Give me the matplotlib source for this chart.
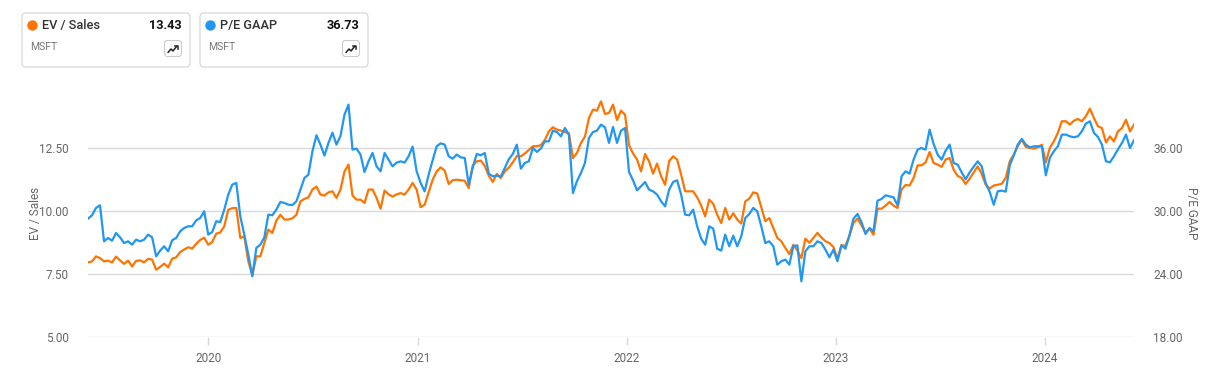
import numpy as np
import pandas as pd
import matplotlib
matplotlib.use("Agg")
import matplotlib.pyplot as plt
import matplotlib.dates as mdates
from matplotlib.patches import FancyBboxPatch, Circle

plt.rcParams['font.family'] = ['Roboto', 'DejaVu Sans']

# weekly readings, June 2019 - June 2024
start_date = '2019-06-05'

ev_sales = [
    7.96, 8.00, 8.20, 8.13, 8.00, 8.03, 7.96, 8.19, 8.04, 7.90,
    8.03, 7.80, 8.02, 8.04, 7.96, 8.10, 8.07, 7.67, 7.78, 7.91,
    7.76, 8.11, 8.16, 8.37, 8.47, 8.56, 8.51, 8.70, 8.85, 8.94,
    8.66, 8.77, 9.10, 9.15, 9.39, 10.05, 10.11, 10.12, 8.93, 8.99,
    8.00, 7.45, 8.20, 8.20, 8.73, 9.26, 9.13, 9.62, 9.85, 9.66,
    9.66, 9.71, 9.85, 10.38, 10.48, 10.54, 10.85, 10.97, 10.65, 10.61,
    10.74, 10.78, 10.52, 10.85, 11.57, 11.84, 10.61, 10.45, 10.45, 10.32,
    10.85, 10.85, 10.52, 10.09, 10.81, 10.66, 10.57, 10.66, 10.71, 10.65,
    10.85, 11.11, 10.85, 10.15, 10.25, 10.75, 11.24, 11.57, 11.73, 11.60,
    11.07, 11.22, 11.24, 11.22, 11.20, 10.91, 11.80, 11.97, 12.00, 11.79,
    11.40, 11.15, 11.47, 11.31, 11.57, 11.72, 11.93, 12.18, 12.17, 12.28,
    12.42, 12.57, 12.57, 12.61, 12.82, 13.16, 13.32, 13.23, 13.19, 13.13,
    13.08, 12.10, 12.30, 12.70, 12.95, 13.69, 14.02, 13.98, 14.35, 13.85,
    13.89, 14.22, 13.61, 13.98, 13.82, 12.61, 12.28, 12.04, 11.57, 12.26,
    11.97, 11.48, 11.88, 11.38, 11.04, 11.97, 12.17, 12.04, 11.44, 10.78,
    10.78, 10.78, 10.54, 10.22, 9.79, 10.45, 10.29, 9.85, 9.52, 10.12,
    9.66, 9.91, 9.66, 9.50, 10.38, 10.49, 10.74, 10.69, 10.15, 9.59,
    9.72, 9.33, 8.93, 8.80, 8.53, 8.29, 8.66, 8.43, 8.13, 8.90,
    8.74, 8.93, 9.13, 8.95, 8.80, 8.73, 8.57, 8.11, 8.64, 8.62,
    9.02, 9.52, 9.70, 9.43, 9.14, 9.30, 9.06, 10.09, 10.09, 10.21,
    10.36, 10.21, 10.12, 10.85, 11.03, 11.01, 11.31, 11.81, 11.81, 11.93,
    12.34, 11.90, 11.84, 11.75, 12.04, 12.10, 11.64, 11.39, 11.31, 11.07,
    11.28, 11.53, 11.77, 11.47, 11.04, 10.89, 11.01, 11.04, 11.08, 11.31,
    11.97, 12.24, 12.57, 12.83, 12.54, 12.50, 12.47, 12.53, 12.63, 11.93,
    12.50, 12.76, 13.10, 13.56, 13.56, 13.43, 13.58, 13.65, 13.56, 13.76,
    14.06, 13.69, 13.36, 13.29, 12.72, 12.96, 12.76, 13.16, 13.29, 13.62,
    13.16, 13.43,
]

pe_gaap = [
    29.27, 29.59, 30.29, 30.54, 27.11, 27.43, 27.17, 27.90, 27.49, 26.95,
    27.11, 26.79, 27.27, 27.11, 27.27, 27.75, 27.49, 25.68, 26.22, 26.64,
    26.16, 27.21, 27.43, 28.06, 28.38, 28.54, 28.54, 29.11, 29.33, 29.97,
    27.75, 28.00, 29.02, 28.95, 30.13, 31.56, 32.51, 32.67, 29.49, 27.75,
    25.84, 23.78, 26.48, 26.79, 27.49, 29.65, 29.59, 30.13, 30.86, 30.76,
    30.60, 30.57, 30.92, 32.03, 33.14, 33.46, 35.68, 37.21, 36.32, 35.27,
    36.48, 37.46, 36.32, 37.14, 39.17, 40.13, 35.84, 35.94, 35.37, 33.71,
    34.73, 35.52, 34.25, 33.78, 35.52, 34.89, 34.25, 34.60, 34.73, 34.60,
    35.21, 36.13, 33.78, 32.67, 31.87, 33.46, 34.83, 36.16, 36.44, 36.32,
    35.21, 34.98, 35.37, 35.11, 35.05, 32.51, 34.16, 35.43, 35.30, 35.52,
    33.56, 33.30, 33.37, 33.27, 34.10, 34.92, 35.43, 36.32, 34.03, 34.57,
    34.73, 36.00, 35.62, 35.94, 36.63, 36.63, 37.65, 37.52, 37.11, 37.90,
    37.27, 31.71, 32.83, 33.62, 34.57, 36.95, 37.52, 37.65, 38.22, 37.97,
    36.48, 38.00, 36.48, 37.65, 37.90, 33.71, 32.92, 31.97, 32.35, 32.76,
    32.03, 31.87, 31.56, 30.92, 30.44, 32.03, 32.76, 32.92, 31.56, 29.65,
    29.59, 30.13, 28.54, 27.37, 26.79, 28.54, 28.32, 26.41, 26.22, 27.75,
    26.64, 27.65, 26.64, 27.59, 29.33, 29.71, 30.29, 29.97, 28.54, 26.95,
    27.11, 26.64, 24.89, 25.21, 25.37, 24.89, 26.64, 26.73, 23.30, 26.16,
    26.64, 26.64, 27.11, 26.95, 26.32, 25.59, 26.32, 25.21, 26.73, 26.41,
    27.68, 29.27, 29.71, 28.95, 27.81, 28.38, 28.06, 30.98, 31.14, 31.49,
    31.40, 31.30, 30.54, 33.30, 33.78, 33.56, 34.89, 35.84, 36.00, 35.84,
    37.75, 36.38, 35.37, 34.89, 35.75, 36.32, 34.57, 34.41, 33.68, 33.02,
    33.68, 34.22, 34.73, 34.25, 32.64, 31.81, 30.60, 31.87, 31.94, 31.84,
    34.35, 35.30, 36.32, 36.86, 36.32, 36.06, 36.16, 36.16, 36.16, 33.40,
    35.05, 35.68, 36.16, 37.27, 37.27, 37.11, 37.02, 37.11, 37.59, 38.32,
    38.54, 37.43, 37.05, 36.32, 34.73, 34.63, 35.21, 35.87, 36.48, 37.27,
    36.00, 36.73,
]

dates = pd.date_range(start_date, periods=len(ev_sales), freq='7D')

ev_ticks = [5.0, 7.5, 10.0, 12.5]
pe_ticks = [18.0, 24.0, 30.0, 36.0]
ev_lim = (5.0, 14.8)
pe_lim = (18 + 2.4 * (ev_lim[0] - 5), 18 + 2.4 * (ev_lim[1] - 5))

orange = '#ff7400'
blue = '#2196f3'
grey_txt = '#666666'

W, H = 1215, 389
fig = plt.figure(figsize=(W / 100, H / 100), dpi=100)
ax = fig.add_axes([88 / W, 1 - 337 / H, (1134 - 88) / W, (337 - 90) / H])
ax2 = ax.twinx()

ax.plot(dates, ev_sales, color=orange, lw=1.6, zorder=3)
ax2.plot(dates, pe_gaap, color=blue, lw=1.6, zorder=3)

ax.set_xlim(dates[0], dates[-1])
ax.set_ylim(*ev_lim)
ax2.set_ylim(*pe_lim)
ax.set_yticks(ev_ticks)
ax.set_yticklabels([f'{v:.2f}' for v in ev_ticks])
ax2.set_yticks(pe_ticks)
ax2.set_yticklabels([f'{v:.2f}' for v in pe_ticks])

ax.xaxis.set_major_locator(mdates.YearLocator())
ax.xaxis.set_major_formatter(mdates.DateFormatter('%Y'))

ax.grid(axis='y', color='#d9d9d9', lw=1)
ax.grid(axis='x', visible=False)
for a in (ax, ax2):
    for s in a.spines.values():
        s.set_visible(False)
ax.tick_params(axis='y', length=0, pad=14, labelsize=8.5, labelcolor=grey_txt)
ax2.tick_params(axis='y', length=0, pad=14, labelsize=8.5, labelcolor=grey_txt)
ax.tick_params(axis='x', length=6, width=1, color='#d9d9d9', pad=5,
               labelsize=8.5, labelcolor=grey_txt)

ax.set_ylabel('EV / Sales', fontsize=8.5, color=grey_txt, labelpad=-2)
ax2.set_ylabel('P/E GAAP', fontsize=8.5, color=grey_txt, rotation=-90,
               labelpad=11)

# header cards
ov = fig.add_axes([0, 0, 1, 1], zorder=5)
ov.set_xlim(0, W)
ov.set_ylim(H, 0)
ov.axis('off')

cards = [('EV / Sales', '13.43', orange, 22), ('P/E GAAP', '36.73', blue, 200)]
for name, val, col, x0 in cards:
    ov.add_patch(FancyBboxPatch((x0, 13), 168, 54,
                                boxstyle='round,pad=0,rounding_size=4',
                                fc='white', ec='#dcdcdc', lw=1))
    ov.add_patch(Circle((x0 + 10.5, 25.5), 4.5, color=col))
    ov.text(x0 + 20, 25.5, name, fontsize=9.2, fontweight='medium',
            color='#333333', va='center', ha='left')
    ov.text(x0 + 159.5, 25.5, val, fontsize=9.2, fontweight='bold',
            color='#111111', va='center', ha='right')
    ov.text(x0 + 8, 46.5, 'MSFT', fontsize=7.5, color='#777777',
            va='center', ha='left')
    ov.add_patch(FancyBboxPatch((x0 + 142.5, 40.5), 17, 16,
                                boxstyle='round,pad=0,rounding_size=3',
                                fc='white', ec='#cccccc', lw=0.8))
    ix = x0 + 146
    ov.plot([ix, ix + 3, ix + 5, ix + 8.5], [52.5, 49, 51, 46.5],
            color='#222222', lw=1.1, solid_capstyle='round')
    ov.plot([ix + 6.5, ix + 9.5, ix + 9.5], [45.8, 45.8, 48.8],
            color='#222222', lw=1.1)

fig.savefig('out.png', dpi=100)
